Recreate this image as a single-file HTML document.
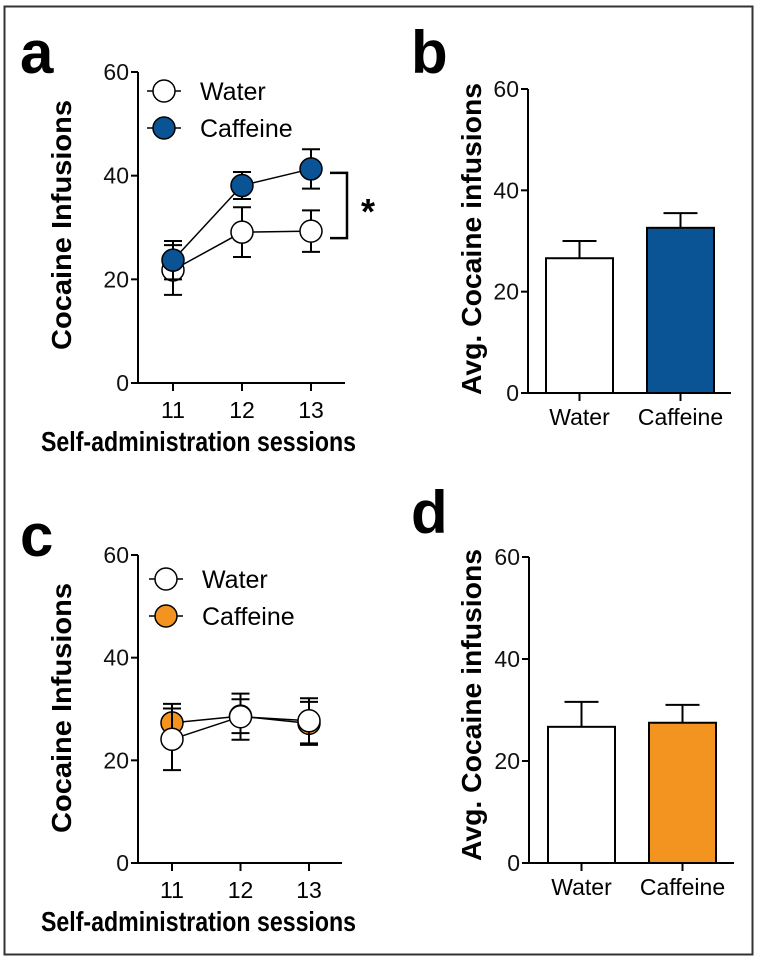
<!DOCTYPE html>
<html><head><meta charset="utf-8"><style>
html,body{margin:0;padding:0;background:#fff;}
svg{display:block;font-family:"Liberation Sans",Arial,sans-serif;}
</style></head><body>
<svg id="fig" width="757" height="960" viewBox="0 0 757 960" xmlns="http://www.w3.org/2000/svg">
<rect x="4.5" y="6.5" width="748" height="948" fill="#fff" stroke="#333" stroke-width="2"/>
<g id="root"></g>
</svg>
<script>
// ---- data ----
const sessions = [11, 12, 13];
const yTicks = [0, 20, 40, 60];
const aWater = [21.8, 29.1, 29.3];
const aWaterErr = [4.8, 4.8, 4.0];
const aCaff = [23.7, 38.1, 41.3];
const aCaffErr = [3.7, 2.6, 3.8];
const cWater = [24.1, 28.5, 27.7];
const cWaterErr = [6.0, 4.5, 4.4];
const cCaff = [27.3, 28.6, 27.2];
const cCaffErr = [3.7, 3.3, 4.2];
const barCats = ['Water', 'Caffeine'];
const bMeans = [26.6, 32.6];
const bErr = [3.4, 2.9];
const dMeans = [26.7, 27.5];
const dErr = [4.9, 3.5];

const NS = 'http://www.w3.org/2000/svg';
const root = document.getElementById('root');
function mk(tag, attrs, parent, text) {
  const e = document.createElementNS(NS, tag);
  for (const k in attrs) e.setAttribute(k, attrs[k]);
  if (text !== undefined) e.textContent = text;
  (parent || root).appendChild(e);
  return e;
}

function yAxis(g, x0, y0, y60, ymapF, title, titleX, titleCy, titleLen) {
  const ax = mk('line', {x1: x0, y1: y60, x2: x0, y2: y0, stroke: '#000', 'stroke-width': 2}, g);
  
  
  yTicks.forEach(t => {
    const y = ymapF(t);
    const tk = mk('line', {x1: x0 - 7, y1: y, x2: x0, y2: y, stroke: '#000', 'stroke-width': 2}, g);
    
    
    const tl = mk('text', {x: x0 - 9, y: y + 8, 'text-anchor': 'end', 'font-size': 23, fill: '#111'}, g, String(t));
    
    
  });
  const tt = mk('text', {x: titleX, y: titleCy, 'text-anchor': 'middle', 'font-size': 28, 'font-weight': 'bold', textLength: titleLen, lengthAdjust: 'spacingAndGlyphs', transform: `rotate(-90 ${titleX} ${titleCy})`, fill: '#000'}, g, title);
  
  
}

function lineChart(cfg) {
  const g = mk('g', {});
  
  
  const ymap = v => cfg.y0 - v * (cfg.y0 - cfg.y60) / 60;
  const xmap = s => cfg.x11 + (s - 11) * cfg.dx;
  const lbl = mk('text', {x: 20, y: cfg.y60 + 1, 'font-size': 60, 'font-weight': 'bold'}, g, cfg.letter);
  
  
  yAxis(g, cfg.x0, cfg.y0, cfg.y60, ymap, 'Cocaine Infusions', 71, cfg.titleCy, 250);
  const xa = mk('line', {x1: cfg.x0, y1: cfg.y0, x2: cfg.xEnd, y2: cfg.y0, stroke: '#000', 'stroke-width': 2}, g);
  
  
  sessions.forEach(s => {
    const x = xmap(s);
    const tk = mk('line', {x1: x, y1: cfg.y0, x2: x, y2: cfg.y0 + 8, stroke: '#000', 'stroke-width': 2}, g);
    
    
    const tl = mk('text', {x: x, y: cfg.y0 + 35, 'text-anchor': 'middle', 'font-size': 23}, g, String(s));
    
    
  });
  const xt = mk('text', {x: 41, y: cfg.y0 + 68, 'font-size': 28, 'font-weight': 'bold', textLength: 315, lengthAdjust: 'spacingAndGlyphs'}, g, 'Self-administration sessions');
  
  
  cfg.series.forEach(sr => {
    const sg = mk('g', {}, g);
    
    
    const pts = sessions.map((s, i) => xmap(s) + ',' + ymap(sr.vals[i])).join(' ');
    const pl = mk('polyline', {points: pts, fill: 'none', stroke: '#000', 'stroke-width': 1.5}, sg);
    
    
    sessions.forEach((s, i) => {
      const x = xmap(s), v = sr.vals[i], e = sr.err[i];
      const eb = mk('path', {d: `M${x},${ymap(v - e)}V${ymap(v + e)}M${x - 9},${ymap(v + e)}H${x + 9}M${x - 9},${ymap(v - e)}H${x + 9}`, stroke: '#000', 'stroke-width': 2, fill: 'none'}, sg);
      
      
    });
    sessions.forEach((s, i) => {
      const c = mk('circle', {cx: xmap(s), cy: ymap(sr.vals[i]), r: 11, fill: sr.fill, stroke: '#000', 'stroke-width': 1.5}, sg);
      
      
    });
  });
  cfg.legend.forEach((lg, i) => {
    const ly = cfg.legY + i * 37;
    const le = mk('g', {}, g);
    
    
    mk('line', {x1: cfg.legX - 17, y1: ly, x2: cfg.legX + 17, y2: ly, stroke: '#000', 'stroke-width': 1.5}, le);
    mk('circle', {cx: cfg.legX, cy: ly, r: 11, fill: lg.fill, stroke: '#000', 'stroke-width': 1.5}, le);
    mk('text', {x: cfg.legX + 36, y: ly + 9, 'font-size': 25}, le, lg.label);
  });
  return {g, ymap, xmap};
}

function barChart(cfg) {
  const g = mk('g', {});
  
  
  const ymap = v => cfg.y0 - v * (cfg.y0 - cfg.y60) / 60;
  const lbl = mk('text', {x: 411, y: cfg.letterY, 'font-size': 60, 'font-weight': 'bold'}, g, cfg.letter);
  
  
  yAxis(g, cfg.x0, cfg.y0, cfg.y60, ymap, 'Avg. Cocaine infusions', 481, cfg.titleCy, 312);
  const xa = mk('line', {x1: cfg.x0, y1: cfg.y0, x2: cfg.xEnd, y2: cfg.y0, stroke: '#000', 'stroke-width': 2}, g);
  
  
  barCats.forEach((c, i) => {
    const bx = cfg.barX[i], bw = 67, cx = bx + bw / 2;
    const v = cfg.means[i], e = cfg.err[i];
    const eb = mk('path', {d: `M${cx},${ymap(v)}V${ymap(v + e)}M${cx - 17},${ymap(v + e)}H${cx + 17}`, stroke: '#000', 'stroke-width': 2, fill: 'none'}, g);
    
    
    const r = mk('rect', {x: bx, y: ymap(v), width: bw, height: cfg.y0 - ymap(v), fill: cfg.fills[i], stroke: '#000', 'stroke-width': 2}, g);
    
    
    const tk = mk('line', {x1: cx, y1: cfg.y0, x2: cx, y2: cfg.y0 + 8, stroke: '#000', 'stroke-width': 2}, g);
    
    
    const tl = mk('text', {x: cx, y: cfg.y0 + 32, 'text-anchor': 'middle', 'font-size': 23}, g, c);
    
    
  });
}

const A = lineChart({name: 'panel-a', letter: 'a', x0: 138, y0: 383, y60: 72, xEnd: 345, x11: 173, dx: 69, titleCy: 225,
  series: [
    {key: 'water', vals: aWater, err: aWaterErr, fill: '#fff'},
    {key: 'caffeine', vals: aCaff, err: aCaffErr, fill: '#0a5394'}
  ],
  legend: [{key: 'water', label: 'Water', fill: '#fff'}, {key: 'caffeine', label: 'Caffeine', fill: '#0a5394'}],
  legX: 164, legY: 91});
const br = mk('path', {d: `M330,${A.ymap(aCaff[2]) + 4}H347V${A.ymap(aWater[2]) + 7}H330`, fill: 'none', stroke: '#000', 'stroke-width': 2.5}, A.g);


const st = mk('text', {x: 368, y: 224, 'text-anchor': 'middle', 'font-size': 36, 'font-weight': 'bold'}, A.g, '*');



lineChart({name: 'panel-c', letter: 'c', x0: 138, y0: 863, y60: 555, xEnd: 342, x11: 172, dx: 68.5, titleCy: 708,
  series: [
    {key: 'caffeine', vals: cCaff, err: cCaffErr, fill: '#f39420'},
    {key: 'water', vals: cWater, err: cWaterErr, fill: '#fff'}
  ],
  legend: [{key: 'water', label: 'Water', fill: '#fff'}, {key: 'caffeine', label: 'Caffeine', fill: '#f39420'}],
  legX: 166, legY: 579});

barChart({name: 'panel-b', letter: 'b', letterY: 73, x0: 528, y0: 393, y60: 89, xEnd: 731, titleCy: 239, barX: [546, 647], means: bMeans, err: bErr, fills: ['#fff', '#0a5394']});
barChart({name: 'panel-d', letter: 'd', letterY: 533, x0: 529, y0: 863, y60: 557, xEnd: 734, titleCy: 705, barX: [548, 649], means: dMeans, err: dErr, fills: ['#fff', '#f39420']});
</script>
</body></html>
